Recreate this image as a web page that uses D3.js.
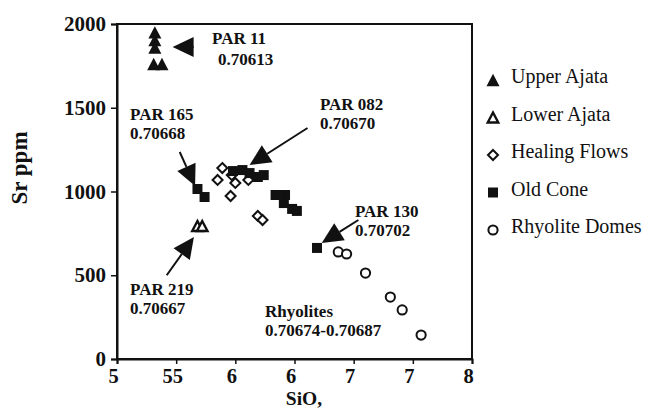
<!DOCTYPE html>
<html><head><meta charset="utf-8">
<script src="https://cdn.jsdelivr.net/npm/d3@7"></script>
<style>
body{margin:0;background:#fff}
text{font-family:"Liberation Serif","Times New Roman",serif;fill:#111}
</style>
</head><body>
<svg id="c" width="651" height="410"></svg>
<script>
// ---- data ----
const xTicks = [50, 55, 60, 65, 70, 75, 80];
const xTickLabels = ["5", "55", "6", "6", "7", "7", "8"];
const yTicks = [0, 500, 1000, 1500, 2000];
const yTickLabels = ["0", "500", "1000", "1500", "2000"];

const upperAjata = [[53.2,1950],[53.2,1904],[53.2,1860],[53.1,1761],[53.8,1761]];
const lowerAjata = [[56.8,794],[57.2,794]];
const healingFlows = [[58.9,1140],[59.7,1098],[58.5,1069],[60.0,1051],[61.1,1069],[59.6,973],[61.9,854],[62.3,830]];
const oldCone = [[59.8,1122],[60.6,1128],[61.2,1110],[61.9,1087],[62.4,1098],[56.8,1015],[57.4,967],
                 [63.4,979],[64.2,979],[64.1,931],[64.8,896],[65.2,884],[66.9,663]];
const rhyoliteDomes = [[68.7,639],[69.4,627],[71.0,513],[73.1,370],[74.1,293],[75.7,143]];

const legendNames = ["Upper Ajata","Lower Ajata","Healing Flows","Old Cone","Rhyolite Domes"];

// annotations: label lines, label anchor (data), arrow tail & tip (data)
const annotations = [
  {lines:["PAR 11","0.70613"], at:[[58.03,1881],[58.54,1755]], tail:[56.3,1863], tip:[54.7,1863]},
  {lines:["PAR 165","0.70668"], at:[[51.10,1427],[51.10,1313]], tail:[55.3,1236], tip:[56.6,1033]},
  {lines:["PAR 082","0.70670"], at:[[67.15,1487],[67.15,1373]], tail:[66.1,1379], tip:[61.2,1158]},
  {lines:["PAR 130","0.70702"], at:[[70.11,848],[70.11,734]], tail:[70.4,830], tip:[67.3,693]},
  {lines:["PAR 219","0.70667"], at:[[51.10,382],[51.10,268]], tail:[54.2,500], tip:[56.5,728]},
  {lines:["Rhyolites","0.70674-0.70687"], at:[[62.51,251],[62.51,137]], tail:null, tip:null}
];

// ---- chart ----
const svg = d3.select("#c");
const x = d3.scaleLinear().domain([50, 80]).range([117, 472]);
const y = d3.scaleLinear().domain([0, 2000]).range([359, 24]);

// frame
svg.append("rect").attr("x", x(50)).attr("y", y(2000))
  .attr("width", x(80) - x(50)).attr("height", y(0) - y(2000))
  .attr("fill", "none").attr("stroke", "#111").attr("stroke-width", 2);

// x axis
const xAxis = d3.axisBottom(x).tickValues(xTicks).tickSize(5)
  .tickFormat((d, i) => xTickLabels[i]);
const gx = svg.append("g").attr("transform", `translate(0,${y(0)})`).call(xAxis);
gx.select(".domain").attr("stroke", "#111").attr("stroke-width", 2);
gx.selectAll(".tick line").attr("stroke", "#111").attr("stroke-width", 1.5);
gx.selectAll(".tick text").attr("font-family", "Liberation Serif").attr("font-weight", "bold")
  .attr("font-size", 20.5).attr("fill", "#111").attr("dy", "0.8em").attr("dx", -4);

// y axis
const yAxis = d3.axisLeft(y).tickValues(yTicks).tickSize(6)
  .tickFormat((d, i) => yTickLabels[i]);
const gy = svg.append("g").attr("transform", `translate(${x(50)},0)`).call(yAxis);
gy.select(".domain").attr("stroke", "#111").attr("stroke-width", 2);
gy.selectAll(".tick line").attr("stroke", "#111").attr("stroke-width", 1.5);
gy.selectAll(".tick text").attr("font-family", "Liberation Serif").attr("font-weight", "bold")
  .attr("font-size", 21).attr("fill", "#111").attr("x", -11);

// axis titles
svg.append("text").attr("x", 304).attr("y", 405).attr("text-anchor", "middle")
  .attr("font-weight", "bold").attr("font-size", 19.5).text("SiO,");
svg.append("text").attr("transform", "translate(27,168) rotate(-90)").attr("text-anchor", "middle")
  .attr("font-weight", "bold").attr("font-size", 23).text("Sr ppm");

// symbol paths
function tri(cx, cy, s) { const h = s * 0.95; return `M${cx},${cy - h/2}L${cx + s/2},${cy + h/2}L${cx - s/2},${cy + h/2}Z`; }
function sq(cx, cy, s) { return `M${cx - s/2},${cy - s/2}h${s}v${s}h${-s}Z`; }
function dia(cx, cy, s) { return `M${cx},${cy - s/2}L${cx + s/2},${cy}L${cx},${cy + s/2}L${cx - s/2},${cy}Z`; }

const series = [
  {data: upperAjata, draw: (g, cx, cy) => g.append("path").attr("d", tri(cx, cy, 13)).attr("fill", "#111")},
  {data: lowerAjata, draw: (g, cx, cy) => g.append("path").attr("d", tri(cx, cy, 10.5)).attr("fill", "#fff").attr("stroke", "#111").attr("stroke-width", 2.4)},
  {data: healingFlows, draw: (g, cx, cy) => g.append("path").attr("d", dia(cx, cy, 10)).attr("fill", "#fff").attr("stroke", "#111").attr("stroke-width", 2)},
  {data: oldCone, draw: (g, cx, cy) => g.append("path").attr("d", sq(cx, cy, 10)).attr("fill", "#111")},
  {data: rhyoliteDomes, draw: (g, cx, cy) => g.append("circle").attr("cx", cx).attr("cy", cy).attr("r", 4.6).attr("fill", "#fff").attr("stroke", "#111").attr("stroke-width", 2)}
];

const pts = svg.append("g");
[2, 4, 3, 0, 1].forEach(i => {
  const s = series[i];
  s.data.forEach(d => s.draw(pts, x(d[0]), y(d[1])));
});

// annotations
const ann = svg.append("g");
annotations.forEach(a => {
  a.lines.forEach((t, i) => {
    ann.append("text").attr("x", x(a.at[i][0])).attr("y", y(a.at[i][1]))
      .attr("font-weight", "bold").attr("font-size", 17).text(t);
  });
  if (a.tail) {
    const x0 = x(a.tail[0]), y0 = y(a.tail[1]), x1 = x(a.tip[0]), y1 = y(a.tip[1]);
    const L = Math.hypot(x1 - x0, y1 - y0), ux = (x1 - x0) / L, uy = (y1 - y0) / L;
    const hl = 21, hw = 10;
    const bx = x1 - ux * hl, by = y1 - uy * hl;
    ann.append("line").attr("x1", x0).attr("y1", y0).attr("x2", bx).attr("y2", by)
      .attr("stroke", "#111").attr("stroke-width", 2);
    ann.append("path").attr("d", `M${x1},${y1}L${bx - uy * hw},${by + ux * hw}L${bx + uy * hw},${by - ux * hw}Z`)
      .attr("fill", "#111");
  }
});

// legend
const lg = svg.append("g");
const legRowY = d3.scalePoint().domain(legendNames).range([76, 226]);
legendNames.forEach((n, i) => {
  const cy = legRowY(n) + 4, cx = 493;
  series[i].draw(lg, cx, cy);
  lg.append("text").attr("x", 511).attr("y", legRowY(n)).attr("dy", "0.35em")
    .attr("font-size", 20).text(n);
});
</script>
</body></html>
